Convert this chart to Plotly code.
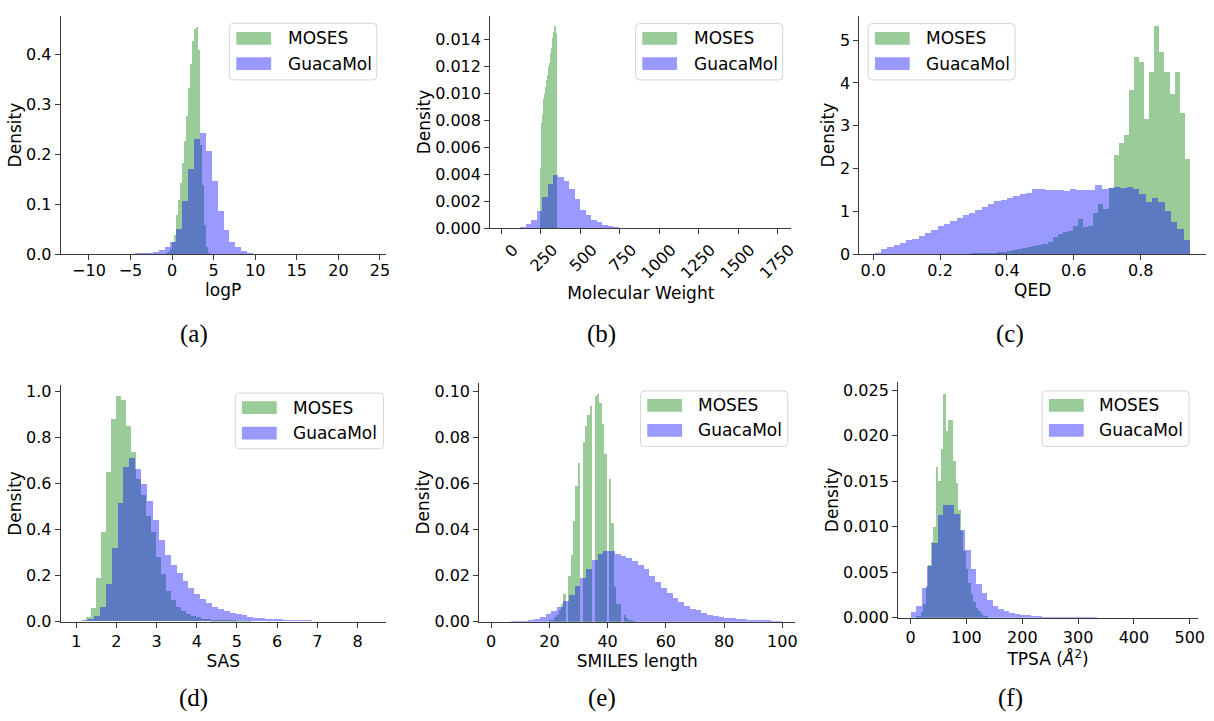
import plotly.graph_objects as go

W, H = 1214, 721

# ------------------------------------------------------------------ data
# (a) logP  -- histogram bins: start, width, density values
LOGP_MOSES_START, LOGP_MOSES_WIDTH = -0.72, 0.24
LOGP_MOSES = [0.002, 0.005, 0.012, 0.025, 0.039, 0.08, 0.109, 0.143, 0.184, 0.228, 0.277,
              0.333, 0.382, 0.428, 0.451, 0.455, 0.41, 0.22, 0.14, 0.06, 0.015, 0.003]
LOGP_GUACA_START, LOGP_GUACA_WIDTH = -11.6, 0.71
LOGP_GUACA = [0.0001, 0.0001, 0.0001, 0.0001, 0.0002, 0.0002, 0.0004, 0.0008,
              0.002, 0.002, 0.003, 0.003, 0.004, 0.006, 0.009, 0.015, 0.026,
              0.052, 0.107, 0.172, 0.232, 0.244, 0.208, 0.147, 0.088, 0.05, 0.025, 0.015, 0.007, 0.004,
              0.002, 0.0015, 0.001, 0.0005, 0.0005,
              0.0002, 0.0001, 0.0001, 0.0001, 0.0001, 0.0001, 0.00005, 0.00005, 0.00005, 0.00005,
              0.00003, 0.00003, 0.00003, 0.00003, 0.00003]

# (b) Molecular Weight
MW_MOSES_START, MW_MOSES_WIDTH = 250, 4
MW_MOSES = [0.0045, 0.0068, 0.0078, 0.0085, 0.0091, 0.0096, 0.0100, 0.0103, 0.0105, 0.0107,
            0.0110, 0.0114, 0.0117, 0.0120, 0.0123, 0.0126, 0.0130, 0.0134, 0.0138, 0.0141,
            0.0144, 0.0146, 0.0150, 0.0148, 0.0145]
MW_GUACA_START, MW_GUACA_WIDTH = 15.8, 34.7
MW_GUACA = [0.00001, 0.00001, 0.00005, 0.0001, 0.0003, 0.0006, 0.0013, 0.0023, 0.0033, 0.0040,
            0.0038, 0.0035, 0.0029, 0.0022, 0.0014, 0.0010, 0.0006, 0.00044, 0.00027, 0.0002,
            0.00012, 0.00005, 0.00003, 0.00002, 0.00002, 0.00001, 0.00001, 0.00001, 0.00001, 0.0,
            0.0, 0.0, 0.0, 0.0, 0.0, 0.0, 0.0, 0.0, 0.0, 0.0,
            0.0, 0.0, 0.0, 0.0, 0.0, 0.0, 0.0, 0.0, 0.0, 0.0]

# (c) QED
QED_MOSES_START, QED_MOSES_WIDTH = 0.188, 0.0152
QED_MOSES = [0.002, 0.003, 0.004, 0.006, 0.008, 0.01, 0.013, 0.017, 0.022, 0.028,
             0.035, 0.045, 0.055, 0.07, 0.09, 0.1, 0.12, 0.15, 0.18, 0.2,
             0.22, 0.25, 0.3, 0.4, 0.48, 0.52, 0.55, 0.67, 0.82, 0.65,
             0.66, 0.98, 1.19, 1.07, 1.55, 2.32, 2.6, 2.78, 3.85, 4.6,
             4.5, 3.17, 4.25, 5.33, 4.73, 4.27, 3.75, 4.25, 3.3, 2.22]
QED_GUACA_START, QED_GUACA_WIDTH = 0.005, 0.01886
QED_GUACA = [0.03, 0.12, 0.17, 0.23, 0.28, 0.33, 0.37, 0.44, 0.5, 0.57,
             0.66, 0.72, 0.78, 0.86, 0.92, 0.98, 1.04, 1.1, 1.18, 1.24,
             1.28, 1.31, 1.36, 1.41, 1.44, 1.52, 1.53, 1.5, 1.51, 1.51,
             1.49, 1.52, 1.51, 1.51, 1.51, 1.63, 1.54, 1.55, 1.57, 1.56,
             1.57, 1.53, 1.42, 1.22, 1.32, 1.22, 1.02, 0.75, 0.6, 0.33]

# (d) SAS
SAS_MOSES_START, SAS_MOSES_WIDTH = 1.246, 0.124
SAS_MOSES = [0.02, 0.057, 0.188, 0.389, 0.652, 0.879, 0.98, 0.965, 0.85, 0.736,
             0.618, 0.55, 0.46, 0.387, 0.282, 0.207, 0.131, 0.093, 0.061, 0.043,
             0.031, 0.024, 0.017, 0.012, 0.009, 0.007, 0.005, 0.004, 0.003, 0.002,
             0.0015, 0.001, 0.0005]
SAS_GUACA_START, SAS_GUACA_WIDTH = 0.99, 0.147
SAS_GUACA = [0.002, 0.004, 0.01, 0.024, 0.064, 0.164, 0.32, 0.513, 0.67, 0.71,
             0.662, 0.598, 0.524, 0.439, 0.356, 0.289, 0.246, 0.209, 0.175, 0.145,
             0.118, 0.098, 0.081, 0.064, 0.053, 0.044, 0.038, 0.033, 0.026, 0.019,
             0.016, 0.014, 0.012, 0.011, 0.009, 0.008, 0.007, 0.006, 0.005, 0.004,
             0.003, 0.003, 0.002, 0.002, 0.0015, 0.001, 0.001, 0.0005, 0.0003, 0.0002]

# (e) SMILES length
SMI_MOSES_START, SMI_MOSES_WIDTH = 19.96, 0.825
SMI_MOSES = [0.0005, 0.001, 0.002, 0.003, 0.005, 0.008, 0.012, 0.0,
             0.02, 0.029, 0.044, 0.059, 0.069, 0.0,
             0.078, 0.085, 0.09, 0.094, 0.0,
             0.098, 0.099, 0.095, 0.086, 0.073, 0.0,
             0.062, 0.043, 0.015, 0.008, 0.0078, 0.0,
             0.003, 0.0015, 0.0008, 0.0004, 0.0002]
SMI_GUACA_START, SMI_GUACA_WIDTH = 1.0, 1.98
SMI_GUACA = [0.00002, 0.00005, 0.0001, 0.0002, 0.0003, 0.0005, 0.0009, 0.0014, 0.0021, 0.0033,
             0.0046, 0.0064, 0.0089, 0.0117, 0.0155, 0.019, 0.0228, 0.0268, 0.0294, 0.0308,
             0.031, 0.0296, 0.0285, 0.0278, 0.0265, 0.0246, 0.0228, 0.0199, 0.0175, 0.0147,
             0.0125, 0.0102, 0.0085, 0.0071, 0.0057, 0.005, 0.0038, 0.0031, 0.0026, 0.0021,
             0.0018, 0.0017, 0.0014, 0.0013, 0.001, 0.0009, 0.0008, 0.0007, 0.0006, 0.0005]

# (f) TPSA
TPSA_MOSES_START, TPSA_MOSES_WIDTH = 0.0, 4.5
TPSA_MOSES = [0.0, 0.0, 0.0001, 0.0002, 0.0006, 0.0015, 0.0035, 0.0058, 0.0083, 0.0100,
              0.0166, 0.0150, 0.0185, 0.0246, 0.0205, 0.0217, 0.0217, 0.0172, 0.0148, 0.0118,
              0.0095, 0.0073, 0.0054, 0.0038, 0.0026, 0.0017, 0.0011, 0.0007, 0.0004, 0.0002,
              0.0001]
TPSA_GUACA_START, TPSA_GUACA_WIDTH = 0.0, 9.8
TPSA_GUACA = [0.00065, 0.0013, 0.0033, 0.0057, 0.0082, 0.0113, 0.0124, 0.0124, 0.0114, 0.0096,
              0.0074, 0.0054, 0.0037, 0.0027, 0.0019, 0.0013, 0.0009, 0.0007, 0.0005, 0.0004,
              0.0003, 0.00025, 0.0002, 0.00015, 0.0001, 0.0001, 0.00008, 0.00006, 0.00005, 0.00004,
              0.00003, 0.00003, 0.00002, 0.00002]

# tick labels
LOGP_XTICKS = [-10, -5, 0, 5, 10, 15, 20, 25]
LOGP_XLABELS = ["\u221210", "\u22125", "0", "5", "10", "15", "20", "25"]
LOGP_YTICKS = [0.0, 0.1, 0.2, 0.3, 0.4]
LOGP_YLABELS = ["0.0", "0.1", "0.2", "0.3", "0.4"]
MW_XTICKS = [0, 250, 500, 750, 1000, 1250, 1500, 1750]
MW_XLABELS = ["0", "250", "500", "750", "1000", "1250", "1500", "1750"]
MW_YTICKS = [0.0, 0.002, 0.004, 0.006, 0.008, 0.010, 0.012, 0.014]
MW_YLABELS = ["0.000", "0.002", "0.004", "0.006", "0.008", "0.010", "0.012", "0.014"]
QED_XTICKS = [0.0, 0.2, 0.4, 0.6, 0.8]
QED_XLABELS = ["0.0", "0.2", "0.4", "0.6", "0.8"]
QED_YTICKS = [0, 1, 2, 3, 4, 5]
QED_YLABELS = ["0", "1", "2", "3", "4", "5"]
SAS_XTICKS = [1, 2, 3, 4, 5, 6, 7, 8]
SAS_XLABELS = ["1", "2", "3", "4", "5", "6", "7", "8"]
SAS_YTICKS = [0.0, 0.2, 0.4, 0.6, 0.8, 1.0]
SAS_YLABELS = ["0.0", "0.2", "0.4", "0.6", "0.8", "1.0"]
SMI_XTICKS = [0, 20, 40, 60, 80, 100]
SMI_XLABELS = ["0", "20", "40", "60", "80", "100"]
SMI_YTICKS = [0.0, 0.02, 0.04, 0.06, 0.08, 0.10]
SMI_YLABELS = ["0.00", "0.02", "0.04", "0.06", "0.08", "0.10"]
TPSA_XTICKS = [0, 100, 200, 300, 400, 500]
TPSA_XLABELS = ["0", "100", "200", "300", "400", "500"]
TPSA_YTICKS = [0.0, 0.005, 0.010, 0.015, 0.020, 0.025]
TPSA_YLABELS = ["0.000", "0.005", "0.010", "0.015", "0.020", "0.025"]

SERIES_NAMES = ["MOSES", "GuacaMol"]
PANEL_LABELS = ["(a)", "(b)", "(c)", "(d)", "(e)", "(f)"]
X_TITLES = ["logP", "Molecular Weight", "QED", "SAS", "SMILES length", "TPSA (<i>Å</i><sup>2</sup>)"]

# ------------------------------------------------------------------ styling / layout
MOSES_COLOR = "rgb(153,204,153)"      # green at alpha 0.4 over white
GUACA_COLOR = "rgba(0,0,255,0.4)"
AXIS_COLOR = "#3a3a3a"
FONT = "DejaVu Sans"

# plot-area boxes in pixels: (left, top, right, bottom)
PANEL_BOXES = [(61, 13, 388, 256), (493, 13, 796, 229.3), (864.3, 13, 1213, 256),
               (61, 389.3, 388, 630), (482, 386.7, 800, 630), (903.3, 386, 1205, 626)]
PANEL_XRANGES = [(-13.4, 25.7), (-71.2, 1838), (-0.0416, 0.9954),
                 (0.612, 8.703), (-4.1, 104.5), (-22.6, 514.9)]
PANEL_YRANGES = [(0, 0.4774), (0, 0.01577), (0, 5.566),
                 (0, 1.0286), (0, 0.1038), (0, 0.0259)]
# per-panel tweaks of tick-label / title spacing
XLABEL_STANDOFF = [-4, 0, -4, 0, 0, 0]
XLABEL_SHIFT = [0, 12, 0, 0, 0, 0]
XTITLE_STANDOFF = [2, 4, 2, 4, 4, 4]
LABEL_POS = [(195, 337), (605, 337), (1016, 337), (195, 708), (605, 708), (1016, 708)]
# legend geometry: box (x0,y0,x1,y1), patch x0, patch width, green y, blue y, text x
LEGENDS = [((230.7, 20.7, 379, 78.3), 237.7, 35, 36, 61.7, 287.3),
           ((639.3, 21, 787.3, 78.3), 646, 35, 36, 61.7, 695.7),
           ((873.3, 21, 1021, 78.3), 880, 35, 36, 61.7, 929),
           ((236.7, 397.3, 385.7, 454), 243.3, 35, 412, 438, 292.7),
           ((644.3, 395, 792.3, 451.7), 651, 35, 409.7, 435.3, 700),
           ((1048.3, 395, 1196, 451.7), 1055, 35, 409.7, 435.3, 1103.3)]


def px(x):
    return x / W


def py(y):
    return 1 - y / H


def centers(start, width, values):
    return [start + width * (k + 0.5) for k in range(len(values))]


panels = [
    (LOGP_MOSES_START, LOGP_MOSES_WIDTH, LOGP_MOSES, LOGP_GUACA_START, LOGP_GUACA_WIDTH, LOGP_GUACA,
     LOGP_XTICKS, LOGP_XLABELS, LOGP_YTICKS, LOGP_YLABELS),
    (MW_MOSES_START, MW_MOSES_WIDTH, MW_MOSES, MW_GUACA_START, MW_GUACA_WIDTH, MW_GUACA,
     MW_XTICKS, MW_XLABELS, MW_YTICKS, MW_YLABELS),
    (QED_MOSES_START, QED_MOSES_WIDTH, QED_MOSES, QED_GUACA_START, QED_GUACA_WIDTH, QED_GUACA,
     QED_XTICKS, QED_XLABELS, QED_YTICKS, QED_YLABELS),
    (SAS_MOSES_START, SAS_MOSES_WIDTH, SAS_MOSES, SAS_GUACA_START, SAS_GUACA_WIDTH, SAS_GUACA,
     SAS_XTICKS, SAS_XLABELS, SAS_YTICKS, SAS_YLABELS),
    (SMI_MOSES_START, SMI_MOSES_WIDTH, SMI_MOSES, SMI_GUACA_START, SMI_GUACA_WIDTH, SMI_GUACA,
     SMI_XTICKS, SMI_XLABELS, SMI_YTICKS, SMI_YLABELS),
    (TPSA_MOSES_START, TPSA_MOSES_WIDTH, TPSA_MOSES, TPSA_GUACA_START, TPSA_GUACA_WIDTH, TPSA_GUACA,
     TPSA_XTICKS, TPSA_XLABELS, TPSA_YTICKS, TPSA_YLABELS),
]

fig = go.Figure()
layout = dict(
    width=W, height=H, margin=dict(l=0, r=0, t=0, b=0),
    paper_bgcolor="white", plot_bgcolor="white",
    barmode="overlay", bargap=0, bargroupgap=0, showlegend=False,
    font=dict(family=FONT, size=16, color="black"),
)
annotations = []
shapes = []

for i, (ms, mw, mv, gs, gw, gv, xt, xl, yt, yl) in enumerate(panels):
    n = "" if i == 0 else str(i + 1)
    xa, ya = "x" + n, "y" + n
    fig.add_trace(go.Bar(x=centers(ms, mw, mv), y=mv, width=mw, name=SERIES_NAMES[0],
                         marker=dict(color=MOSES_COLOR, line=dict(width=0)),
                         xaxis=xa, yaxis=ya, showlegend=False))
    fig.add_trace(go.Bar(x=centers(gs, gw, gv), y=gv, width=gw, name=SERIES_NAMES[1],
                         marker=dict(color=GUACA_COLOR, line=dict(width=0)),
                         xaxis=xa, yaxis=ya, showlegend=False))
    l, t, r, b = PANEL_BOXES[i]
    common = dict(showline=True, linecolor=AXIS_COLOR, linewidth=1, mirror=False,
                  ticks="outside", ticklen=5, tickwidth=1, tickcolor=AXIS_COLOR,
                  showgrid=False, zeroline=False, fixedrange=True,
                  tickfont=dict(family=FONT, size=16, color="black"))
    layout["xaxis" + n] = dict(
        common, domain=[px(l), px(r)], anchor=ya, range=list(PANEL_XRANGES[i]),
        tickmode="array", tickvals=xt, ticktext=xl,
        tickangle=-45 if i == 1 else 0,
        ticklabelstandoff=XLABEL_STANDOFF[i], ticklabelshift=XLABEL_SHIFT[i],
        title=dict(text=X_TITLES[i], font=dict(family=FONT, size=17, color="black"),
                   standoff=XTITLE_STANDOFF[i]))
    layout["yaxis" + n] = dict(
        common, domain=[py(b), py(t)], anchor=xa, range=list(PANEL_YRANGES[i]),
        tickmode="array", tickvals=yt, ticktext=yl,
        title=dict(text="Density", font=dict(family=FONT, size=17, color="black"), standoff=0))

    # panel label
    lx, ly = LABEL_POS[i]
    annotations.append(dict(text=PANEL_LABELS[i], x=px(lx), y=py(ly), xref="paper", yref="paper",
                            showarrow=False, xanchor="center", yanchor="middle",
                            font=dict(family="Liberation Serif", size=25, color="black")))

    # legend (matplotlib style)
    (bx0, by0, bx1, by1), pxl, pw, gy, bly, tx = LEGENDS[i]
    rr = 4
    path = (f"M {px(bx0 + rr)},{py(by0)} L {px(bx1 - rr)},{py(by0)} "
            f"Q {px(bx1)},{py(by0)} {px(bx1)},{py(by0 + rr)} L {px(bx1)},{py(by1 - rr)} "
            f"Q {px(bx1)},{py(by1)} {px(bx1 - rr)},{py(by1)} L {px(bx0 + rr)},{py(by1)} "
            f"Q {px(bx0)},{py(by1)} {px(bx0)},{py(by1 - rr)} L {px(bx0)},{py(by0 + rr)} "
            f"Q {px(bx0)},{py(by0)} {px(bx0 + rr)},{py(by0)} Z")
    shapes.append(dict(type="path", path=path, xref="paper", yref="paper",
                       fillcolor="rgba(255,255,255,0.8)", line=dict(color="#d5d5d5", width=1)))
    for cy, col, name in ((gy, MOSES_COLOR, SERIES_NAMES[0]), (bly, GUACA_COLOR, SERIES_NAMES[1])):
        shapes.append(dict(type="rect", xref="paper", yref="paper",
                           x0=px(pxl), x1=px(pxl + pw), y0=py(cy - 6.5), y1=py(cy + 6.5),
                           fillcolor=col, line=dict(width=0)))
        annotations.append(dict(text=name, x=px(tx), y=py(cy), xref="paper", yref="paper",
                                showarrow=False, xanchor="left", yanchor="middle",
                                font=dict(family=FONT, size=17, color="black")))

layout["annotations"] = annotations
layout["shapes"] = shapes
fig.update_layout(**layout)

fig.write_html("out.html", config={"displayModeBar": False},
               post_script="document.body.style.margin='0';")
